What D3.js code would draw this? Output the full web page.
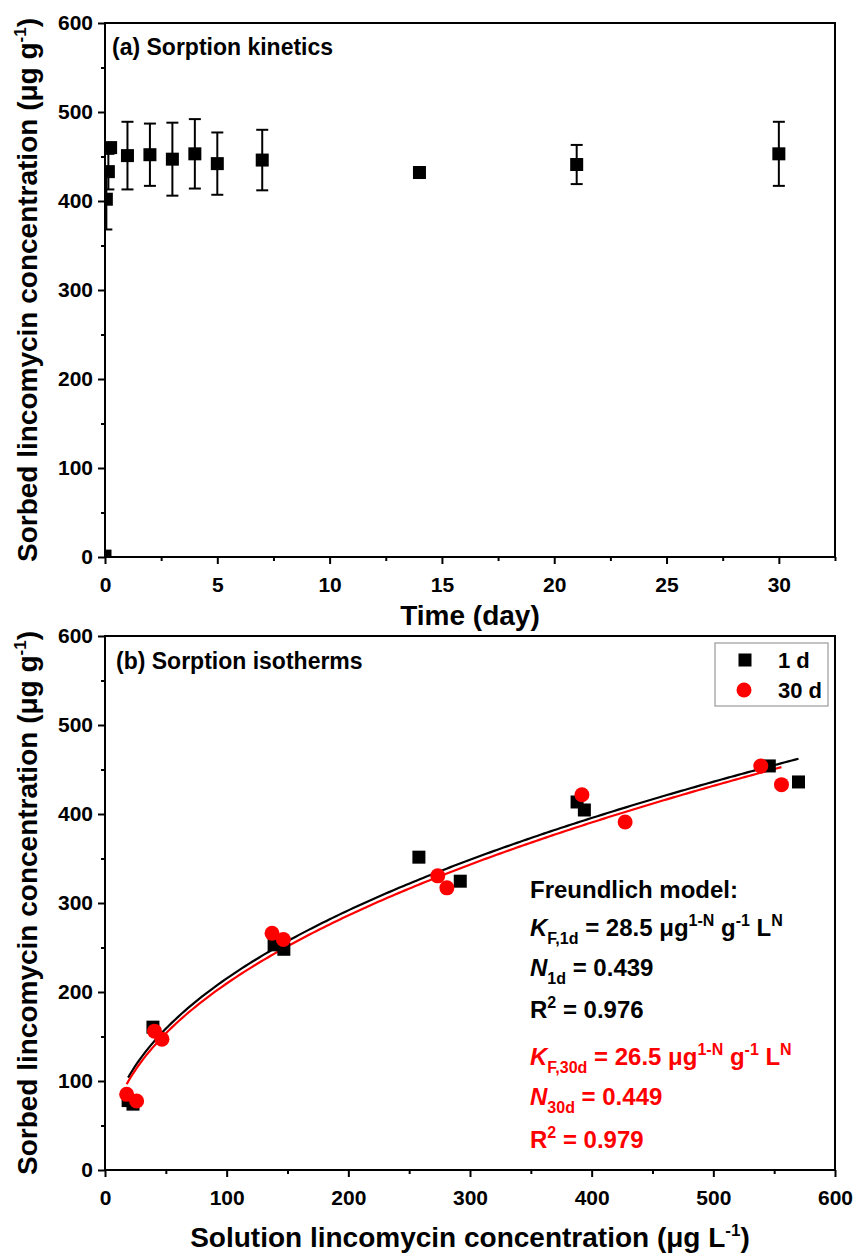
<!DOCTYPE html>
<html>
<head>
<meta charset="utf-8">
<script src="https://cdn.jsdelivr.net/npm/d3@7/dist/d3.min.js"></script>
<style>
  html, body { margin: 0; padding: 0; background: #fff; }
  svg { display: block; font-family: "Liberation Sans", Arial, sans-serif; font-weight: bold; }
</style>
</head>
<body>
<svg id="fig" width="858" height="1257"></svg>
<script>
// (a) Sorption kinetics: time (day), sorbed amount (µg/g), standard deviation
const kineticsTime   = [0, 0.06, 0.15, 0.25, 1, 2, 3, 4, 5, 7, 14, 21, 30];
const kineticsSorbed = [1, 402, 433, 460, 451, 452, 447, 453, 442, 446, 432, 441, 453];
const kineticsError  = [0, 34, 20, 5, 38, 35, 41, 39, 35, 34, 6, 22, 36];

// (b) Sorption isotherms: solution vs sorbed concentration
const conc1d    = [19, 23, 39.4, 139, 147, 258, 292, 388, 394, 546, 570];
const sorbed1d  = [78, 74, 160.5, 253, 248, 351.5, 324.5, 413.5, 404.5, 454, 436];
const conc30d   = [17.8, 26, 40.7, 46.8, 137.3, 146.6, 273.5, 281, 392, 427.5, 539, 556];
const sorbed30d = [85, 77.5, 156, 147, 266, 259, 330.5, 317, 421.7, 391, 454, 433];

// Freundlich fit parameters, q = KF * C^N
const fitKF = { d1: 28.5, d30: 26.5 };
const fitN  = { d1: 0.439, d30: 0.449 };

// axis tick values
const timeTicks   = [0, 5, 10, 15, 20, 25, 30];
const sorbedTicks = [0, 100, 200, 300, 400, 500, 600];
const concTicks   = [0, 100, 200, 300, 400, 500, 600];

const RED = "#ff0000";
const TITLE = 28;
const svg = d3.select("#fig");

function drawFrame(g, x, y, majorX, minorX, majorY, minorY, id) {
  const [x0, x1] = x.range(), [y0, y1] = y.range();
  // major ticks + labels
  const ax = g.append("g").attr("transform", `translate(0,${y0})`)
    .call(d3.axisBottom(x).tickValues(majorX).tickSize(7).tickSizeOuter(0).tickPadding(13).tickFormat(d3.format("d")));
  const ay = g.append("g").attr("transform", `translate(${x0},0)`)
    .call(d3.axisLeft(y).tickValues(majorY).tickSize(7).tickSizeOuter(0).tickPadding(5).tickFormat(d3.format("d")));
  // minor ticks
  const mx = g.append("g").attr("transform", `translate(0,${y0})`)
    .call(d3.axisBottom(x).tickValues(minorX).tickSize(4).tickSizeOuter(0).tickFormat(""));
  const my = g.append("g").attr("transform", `translate(${x0},0)`)
    .call(d3.axisLeft(y).tickValues(minorY).tickSize(4).tickSizeOuter(0).tickFormat(""));
  [ax, ay, mx, my].forEach(a => {
    a.select(".domain").remove();
    a.selectAll("line").attr("stroke", "#000").attr("stroke-width", 2);
    a.selectAll("text").attr("font-family", "Liberation Sans, Arial, sans-serif")
      .attr("font-weight", "bold").attr("font-size", 21).attr("fill", "#000");
  });
  g.append("rect").attr("x", x0).attr("y", y1).attr("width", x1 - x0).attr("height", y0 - y1)
    .attr("fill", "none").attr("stroke", "#000").attr("stroke-width", 2);
  g.append("clipPath").attr("id", id).append("rect")
    .attr("x", x0).attr("y", y1).attr("width", x1 - x0).attr("height", y0 - y1);
}

function yTitle(g, cx, cy, unit) {
  const t = g.append("text").attr("transform", `translate(${cx},${cy}) rotate(-90)`)
    .attr("text-anchor", "middle").attr("font-size", TITLE);
  t.append("tspan").text(`Sorbed lincomycin concentration (\u03bcg ${unit}`);
  t.append("tspan").attr("font-size", 17).attr("dy", -11).text("-1");
  t.append("tspan").attr("dy", 11).text(")");
}

// ---------- panel (a) ----------
const pa = { left: 105, right: 835, top: 23, bottom: 557 };
const xa = d3.scaleLinear().domain([0, 32.5]).range([pa.left, pa.right]);
const ya = d3.scaleLinear().domain([0, 600]).range([pa.bottom, pa.top]);
const ga = svg.append("g");
drawFrame(ga, xa, ya, timeTicks, d3.range(2.5, 33, 5), sorbedTicks, d3.range(50, 600, 100), "clipA");

const kin = kineticsTime.map((t, i) => ({ t, q: kineticsSorbed[i], e: kineticsError[i] }));
const errG = ga.append("g").attr("clip-path", "url(#clipA)").attr("stroke", "#000").attr("stroke-width", 2);
kin.filter(d => d.e > 0).forEach(d => {
  const cx = xa(d.t), yt = ya(d.q + d.e), yb = ya(d.q - d.e);
  errG.append("line").attr("x1", cx).attr("x2", cx).attr("y1", yt).attr("y2", yb);
  errG.append("line").attr("x1", cx - 6).attr("x2", cx + 6).attr("y1", yt).attr("y2", yt);
  errG.append("line").attr("x1", cx - 6).attr("x2", cx + 6).attr("y1", yb).attr("y2", yb);
});
ga.append("g").attr("clip-path", "url(#clipA)").selectAll("rect.k").data(kin).join("rect")
  .attr("x", d => xa(d.t) - 6.5).attr("y", d => ya(d.q) - 6.5)
  .attr("width", 13).attr("height", 13).attr("fill", "#000");

ga.append("text").attr("x", 112).attr("y", 55).attr("font-size", 23).text("(a) Sorption kinetics");
ga.append("text").attr("x", (pa.left + pa.right) / 2).attr("y", 625)
  .attr("text-anchor", "middle").attr("font-size", TITLE).text("Time (day)");
yTitle(ga, 37, (pa.top + pa.bottom) / 2, "g");

// ---------- panel (b) ----------
const pb = { left: 105, right: 835, top: 636, bottom: 1170 };
const xb = d3.scaleLinear().domain([0, 600]).range([pb.left, pb.right]);
const yb = d3.scaleLinear().domain([0, 600]).range([pb.bottom, pb.top]);
const gb = svg.append("g");
drawFrame(gb, xb, yb, concTicks, d3.range(50, 600, 100), sorbedTicks, d3.range(50, 600, 100), "clipB");

// Freundlich model curves over the measured concentration range
function fitCurve(conc, kf, n) {
  const lo = d3.min(conc), hi = d3.max(conc);
  return d3.range(0, 201).map(i => { const c = lo + (hi - lo) * i / 200; return [c, kf * Math.pow(c, n)]; });
}
const line = d3.line().x(d => xb(d[0])).y(d => yb(d[1])).curve(d3.curveLinear);
const plotB = gb.append("g").attr("clip-path", "url(#clipB)");
plotB.append("path").attr("d", line(fitCurve(conc1d, fitKF.d1, fitN.d1)))
  .attr("fill", "none").attr("stroke", "#000").attr("stroke-width", 2.2);
plotB.append("path").attr("d", line(fitCurve(conc30d, fitKF.d30, fitN.d30)))
  .attr("fill", "none").attr("stroke", RED).attr("stroke-width", 2.2);

plotB.selectAll("rect.d1").data(conc1d.map((c, i) => [c, sorbed1d[i]])).join("rect")
  .attr("x", d => xb(d[0]) - 6.5).attr("y", d => yb(d[1]) - 6.5)
  .attr("width", 13).attr("height", 13).attr("fill", "#000");
plotB.selectAll("circle.d30").data(conc30d.map((c, i) => [c, sorbed30d[i]])).join("circle")
  .attr("cx", d => xb(d[0])).attr("cy", d => yb(d[1])).attr("r", 7.5).attr("fill", RED);

// legend
const lg = gb.append("g");
lg.append("rect").attr("x", 715).attr("y", 643).attr("width", 113).attr("height", 63)
  .attr("fill", "#fff").attr("stroke", "#999").attr("stroke-width", 1.2);
lg.append("rect").attr("x", 745 - 6.5).attr("y", 660 - 6.5).attr("width", 13).attr("height", 13).attr("fill", "#000");
lg.append("circle").attr("cx", 744).attr("cy", 690).attr("r", 7.5).attr("fill", RED);
lg.append("text").attr("x", 778).attr("y", 668).attr("font-size", 22).text("1 d");
lg.append("text").attr("x", 778).attr("y", 698).attr("font-size", 22).text("30 d");

gb.append("text").attr("x", 116).attr("y", 669).attr("font-size", 23).text("(b) Sorption isotherms");
gb.append("text").attr("x", (pb.left + pb.right) / 2).attr("y", 1247)
  .attr("text-anchor", "middle").attr("font-size", TITLE)
  .call(t => {
    t.append("tspan").text("Solution lincomycin concentration (\u03bcg L");
    t.append("tspan").attr("font-size", 17).attr("dy", -11).text("-1");
    t.append("tspan").attr("dy", 11).text(")");
  });
yTitle(gb, 37, (pb.top + pb.bottom) / 2, "g");

// Freundlich annotation
const FS = 24, SS = 16;
function kLine(y, color, sub, value) {
  const t = gb.append("text").attr("x", 530).attr("y", y).attr("font-size", FS).attr("fill", color);
  t.append("tspan").attr("font-style", "italic").text("K");
  t.append("tspan").attr("font-size", SS).attr("dy", 8).text(sub);
  t.append("tspan").attr("dy", -8).text(` = ${value} \u03bcg`);
  t.append("tspan").attr("font-size", SS).attr("dy", -10).text("1-N");
  t.append("tspan").attr("dy", 10).text(" g");
  t.append("tspan").attr("font-size", SS).attr("dy", -10).text("-1");
  t.append("tspan").attr("dy", 10).text(" L");
  t.append("tspan").attr("font-size", SS).attr("dy", -10).text("N");
}
function nLine(y, color, sub, value) {
  const t = gb.append("text").attr("x", 530).attr("y", y).attr("font-size", FS).attr("fill", color);
  t.append("tspan").attr("font-style", "italic").text("N");
  t.append("tspan").attr("font-size", SS).attr("dy", 8).text(sub);
  t.append("tspan").attr("dy", -8).text(` = ${value}`);
}
function rLine(y, color, value) {
  const t = gb.append("text").attr("x", 530).attr("y", y).attr("font-size", FS).attr("fill", color);
  t.append("tspan").text("R");
  t.append("tspan").attr("font-size", SS).attr("dy", -10).text("2");
  t.append("tspan").attr("dy", 10).text(` = ${value}`);
}
gb.append("text").attr("x", 530).attr("y", 898).attr("font-size", FS).text("Freundlich model:");
kLine(936, "#000", "F,1d", fitKF.d1.toFixed(1));
nLine(976, "#000", "1d", fitN.d1.toFixed(3));
rLine(1018, "#000", "0.976");
kLine(1065, RED, "F,30d", fitKF.d30.toFixed(1));
nLine(1105, RED, "30d", fitN.d30.toFixed(3));
rLine(1148, RED, "0.979");
</script>
</body>
</html>
